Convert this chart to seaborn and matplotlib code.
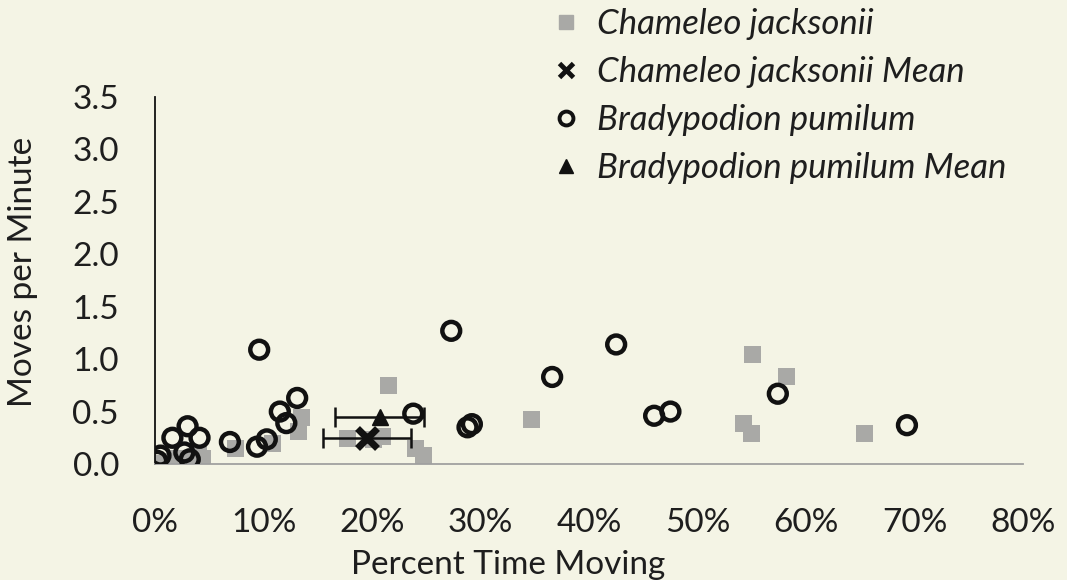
import matplotlib
matplotlib.use('Agg')
import matplotlib.pyplot as plt
import seaborn as sns
import pandas as pd
from matplotlib.lines import Line2D

# Chameleo jacksonii individual points (percent time moving, moves per minute)
jack_pct = [0.2, 1.2, 2.0, 3.0, 4.0, 4.4, 7.4, 10.8, 13.2, 13.5,
            17.7, 20.1, 21.0, 21.5, 24.0, 24.7, 34.7, 54.2, 55.0, 55.1, 58.2, 65.4]
jack_mpm = [0.0, 0.02, 0.05, 0.03, 0.1, 0.05, 0.15, 0.2, 0.31, 0.44,
            0.24, 0.23, 0.26, 0.75, 0.15, 0.08, 0.42, 0.39, 0.29, 1.04, 0.83, 0.29]

# Bradypodion pumilum individual points
brad_pct = [0.2, 0.5, 1.6, 2.7, 3.0, 3.2, 4.1, 6.9, 9.4, 9.6, 10.3, 11.5, 12.1, 13.1,
            23.8, 27.3, 28.8, 29.2, 36.6, 42.5, 46.0, 47.5, 57.4, 69.3]
brad_mpm = [0.03, 0.08, 0.25, 0.11, 0.36, 0.045, 0.25, 0.21, 0.165, 1.09, 0.235, 0.5, 0.39, 0.63,
            0.48, 1.27, 0.35, 0.38, 0.83, 1.14, 0.46, 0.5, 0.67, 0.37]

# means with x error
jack_mean_pct, jack_mean_mpm, jack_err = 19.5, 0.25, 4.05
brad_mean_pct, brad_mean_mpm, brad_err = 20.7, 0.445, 4.1

xticks = [0, 10, 20, 30, 40, 50, 60, 70, 80]
yticks = [0.0, 0.5, 1.0, 1.5, 2.0, 2.5, 3.0, 3.5]

BG = '#f4f4e5'
INK = '#1e1e1e'
sns.set_style('white')
plt.rcParams['font.family'] = ['Lato', 'DejaVu Sans']

fig = plt.figure(figsize=(10.67, 5.8), dpi=100, facecolor=BG)
ax = fig.add_axes([0.1453, 0.2, 0.8135, 0.6328])
ax.set_facecolor(BG)

jack = pd.DataFrame({'pct': jack_pct, 'mpm': jack_mpm})
brad = pd.DataFrame({'pct': brad_pct, 'mpm': brad_mpm})

sns.scatterplot(data=jack, x='pct', y='mpm', ax=ax, marker='s', s=150,
                color='#a9a9a6', edgecolor='none', zorder=2)
sns.scatterplot(data=brad, x='pct', y='mpm', ax=ax, marker='o', s=165,
                facecolor='none', edgecolor='#111111', linewidth=3.2, zorder=3)

# horizontal error bars for the two means, markers drawn on top
ax.errorbar([jack_mean_pct], [jack_mean_mpm], xerr=[jack_err], fmt='none', ecolor='#111111',
            elinewidth=1.8, capsize=7, capthick=1.8, zorder=4)
ax.errorbar([brad_mean_pct], [brad_mean_mpm], xerr=[brad_err], fmt='none', ecolor='#111111',
            elinewidth=1.8, capsize=7, capthick=1.8, zorder=4)
ax.plot([jack_mean_pct], [jack_mean_mpm], marker='x', ls='none', color='#111111',
        ms=15, mew=5, zorder=5)
ax.plot([brad_mean_pct], [brad_mean_mpm], marker='^', ls='none', color='#111111',
        ms=12, zorder=5)

ax.set_xlim(0, 80)
ax.set_ylim(0, 3.5)
ax.set_xticks(xticks)
ax.set_xticklabels([f'{t}%' for t in xticks])
ax.set_yticks(yticks)
ax.set_yticklabels([f'{t:.1f}' for t in yticks])

for side in ['top', 'right']:
    ax.spines[side].set_visible(False)
ax.spines['left'].set_color('#111111')
ax.spines['left'].set_linewidth(1.3)
ax.spines['bottom'].set_color('#a0a0a0')
ax.spines['bottom'].set_linewidth(1.3)
ax.tick_params(axis='y', direction='out', length=9, width=1.3, color='#111111',
               labelsize=24, pad=17, labelcolor=INK)
ax.tick_params(axis='x', direction='out', length=9, width=1.3, color='#a0a0a0',
               labelsize=24, pad=23, labelcolor=INK)
ax.set_xlabel('Percent Time Moving', fontsize=24, color=INK)
ax.set_ylabel('Moves per Minute', fontsize=24, color=INK)
ax.xaxis.set_label_coords(0.407, -0.235)
ax.yaxis.set_label_coords(-0.135, 0.523)

handles = [
    Line2D([], [], marker='s', ls='none', color='#a9a9a6', ms=10),
    Line2D([], [], marker='x', ls='none', color='#111111', ms=10, mew=3.5),
    Line2D([], [], marker='o', ls='none', mfc='none', mec='#111111', ms=10, mew=2.8),
    Line2D([], [], marker='^', ls='none', color='#111111', ms=10),
]
labels = ['Chameleo jacksonii', 'Chameleo jacksonii Mean',
          'Bradypodion pumilum', 'Bradypodion pumilum Mean']
leg = fig.legend(handles, labels, loc='upper left', bbox_to_anchor=(0.488, 1.04),
                 frameon=False, handlelength=0.8, handletextpad=0.5, labelspacing=0.46,
                 prop={'size': 25, 'style': 'italic'})
for t in leg.get_texts():
    t.set_color(INK)

fig.savefig('out.png', dpi=100, facecolor=BG)
